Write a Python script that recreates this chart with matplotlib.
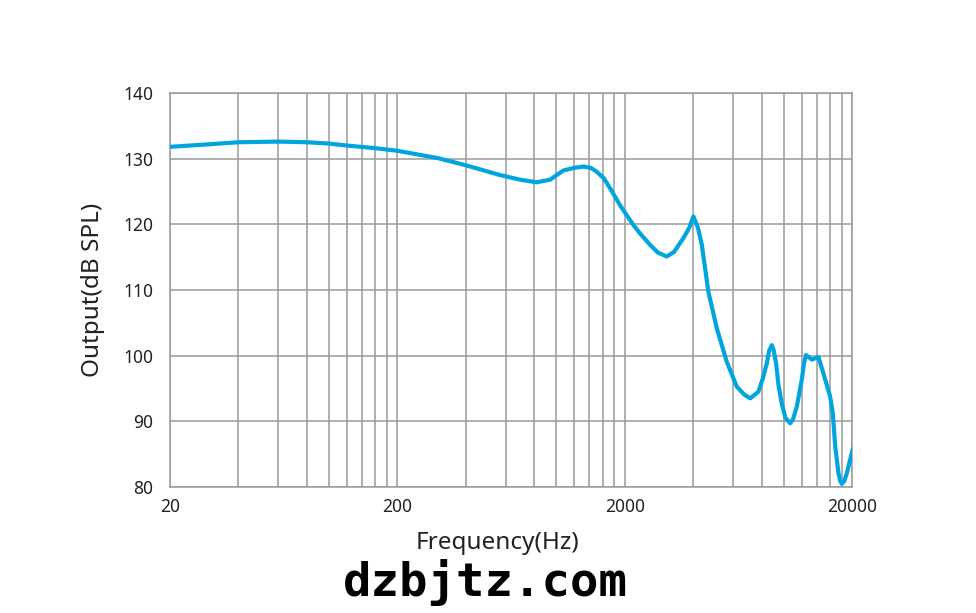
import matplotlib
matplotlib.use("Agg")
import matplotlib.pyplot as plt
from matplotlib.ticker import FixedLocator, NullFormatter

plt.rcParams['font.family'] = ['Noto Sans', 'DejaVu Sans']

freq = [20, 30, 40, 60, 80, 100, 120, 160, 200, 300, 400, 566, 694, 820, 940,
        1075, 1200, 1316, 1420, 1508, 1620, 1725, 1909, 2184, 2338, 2600, 2800,
        3061, 3300, 3625, 3850, 4012, 4200, 4368, 4666,
        5082, 5622, 6222, 6700, 7128, 7746, 8100, 8434, 8650, 8874, 9050, 9272,
        9500, 9817, 10200, 10690, 11000, 11430,
        12020, 12300, 12560, 13310, 14230, 14970, 16020, 16470, 16870, 17440,
        17750, 18040, 18500, 18980, 20200]
spl = [131.8, 132.2, 132.5, 132.6, 132.5, 132.3, 132.0, 131.6, 131.2, 130.1,
       129.0, 127.5, 126.8, 126.4, 126.8, 128.2, 128.6, 128.8, 128.6, 128.0,
       127.0, 125.5, 122.9, 119.9, 118.6, 116.8, 115.7,
       115.1, 115.8, 117.9, 119.5, 121.2, 119.5, 116.9, 109.8, 104.2, 99.1, 95.3,
       94.1, 93.5, 94.5, 96.5, 98.8, 100.8, 101.6, 100.8, 98.8,
       95.5, 92.7, 90.5, 89.7, 90.3, 92.2, 96.3, 98.8, 100.1, 99.4,
       99.8, 97.3, 93.8, 91.2, 86.2, 82.1, 80.9, 80.5, 80.9, 82.1, 85.9]

major_x = [20, 200, 2000, 20000]
major_x_labels = ["20", "200", "2000", "20000"]
minor_x = [m * 10**e for e in (1, 2, 3) for m in (4, 6, 8, 10, 12, 14, 16, 18)]
minor_x = [v for v in minor_x if v not in major_x]
y_ticks = [80, 90, 100, 110, 120, 130, 140]

fig = plt.figure(figsize=(9.76, 6.13), dpi=100)
ax = fig.add_axes([170/976, 1-487/613, (852-170)/976, (487-93)/613])

ax.plot(freq, spl, color='#00a5e0', linewidth=3.0, solid_capstyle='round',
        solid_joinstyle='round', zorder=3)

ax.set_xscale('log')
ax.set_xlim(20, 20000)
ax.set_ylim(80, 140)
ax.xaxis.set_major_locator(FixedLocator(major_x))
ax.set_xticklabels(major_x_labels)
ax.xaxis.set_minor_locator(FixedLocator(minor_x))
ax.xaxis.set_minor_formatter(NullFormatter())
ax.set_yticks(y_ticks)

ax.grid(True, which='both', color='#9a9a9a', linewidth=1.1)
ax.tick_params(which='both', length=0, labelsize=12.5, colors='#222222')
ax.tick_params(axis='x', pad=8)
ax.tick_params(axis='y', pad=12)
for s in ax.spines.values():
    s.set_color('#9a9a9a')
    s.set_linewidth(1.1)

ax.set_xlabel('Frequency(Hz)', fontsize=17.5, color='#222222')
ax.set_ylabel('Output(dB SPL)', fontsize=17.5, color='#222222', labelpad=13)
ax.xaxis.set_label_coords((497-170)/682, -(543-487)/394, transform=ax.transAxes)
ax.xaxis.label.set_va('center')

fig.text(485/976, 1-582/613, 'dzbjtz.com', ha='center', va='center',
         fontsize=34, fontweight='bold', family='DejaVu Sans Mono', color='black')

fig.savefig('out.png', dpi=100)
